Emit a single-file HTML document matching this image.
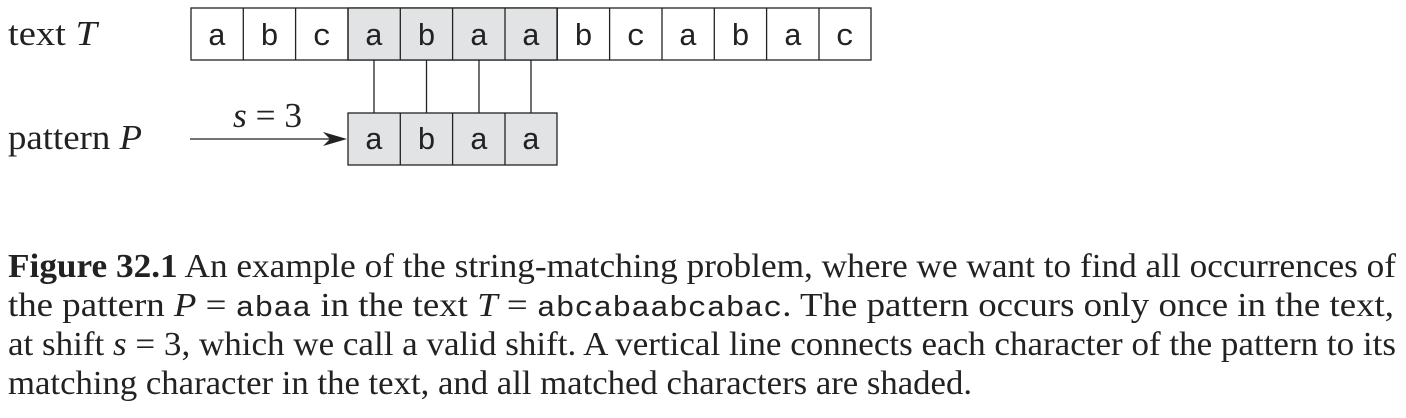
<!DOCTYPE html>
<html><head><meta charset="utf-8"><style>
html,body{margin:0;padding:0;background:#fff;}
svg{display:block}
</style></head><body>
<svg width="1406" height="418" viewBox="0 0 1406 418" xmlns="http://www.w3.org/2000/svg">
<g stroke="#222" stroke-width="1.3">
<rect x="191" y="8" width="680" height="52" fill="#fff"/>
<rect x="348" y="8" width="209" height="52" fill="#e2e3e5"/>
<rect x="348" y="113" width="209" height="52" fill="#e2e3e5"/>
<line x1="243.3" y1="8" x2="243.3" y2="60"/><line x1="295.6" y1="8" x2="295.6" y2="60"/>
<line x1="348" y1="8" x2="348" y2="60"/><line x1="400.3" y1="8" x2="400.3" y2="60"/>
<line x1="452.6" y1="8" x2="452.6" y2="60"/><line x1="505" y1="8" x2="505" y2="60"/>
<line x1="557.3" y1="8" x2="557.3" y2="60"/><line x1="609.6" y1="8" x2="609.6" y2="60"/>
<line x1="662" y1="8" x2="662" y2="60"/><line x1="714.3" y1="8" x2="714.3" y2="60"/>
<line x1="766.6" y1="8" x2="766.6" y2="60"/><line x1="819" y1="8" x2="819" y2="60"/>
<line x1="400.3" y1="113" x2="400.3" y2="165"/><line x1="452.6" y1="113" x2="452.6" y2="165"/><line x1="505" y1="113" x2="505" y2="165"/>
<line x1="374" y1="60" x2="374" y2="113"/><line x1="426.5" y1="60" x2="426.5" y2="113"/>
<line x1="479" y1="60" x2="479" y2="113"/><line x1="531" y1="60" x2="531" y2="113"/>
<line x1="190" y1="139" x2="335" y2="139"/>
</g>
<polygon points="347,139 323,132 330,139 323,146" fill="#222"/>
<g font-family="'Liberation Mono', monospace" font-size="31" text-anchor="middle" fill="#222">
<text x="217" y="45">a</text><text x="269.5" y="45">b</text><text x="322" y="45">c</text>
<text x="374" y="45">a</text><text x="426.5" y="45">b</text><text x="479" y="45">a</text>
<text x="531" y="45">a</text><text x="583.5" y="45">b</text><text x="636" y="45">c</text>
<text x="688" y="45">a</text><text x="740.5" y="45">b</text><text x="793" y="45">a</text>
<text x="845" y="45">c</text>
<text x="374" y="149">a</text><text x="426.5" y="149">b</text><text x="479" y="149">a</text><text x="531" y="149">a</text>
</g>
<g font-family="'Liberation Serif', serif" font-size="35" fill="#222">
<text x="8" y="45" textLength="89" lengthAdjust="spacingAndGlyphs">text  <tspan font-style="italic">T</tspan></text>
<text x="8" y="149" textLength="134" lengthAdjust="spacingAndGlyphs">pattern  <tspan font-style="italic">P</tspan></text>
<text x="233" y="127" textLength="69" lengthAdjust="spacingAndGlyphs"><tspan font-style="italic">s</tspan> = 3</text>
</g>
<g font-family="'Liberation Serif', serif" font-size="34" fill="#222">
<text x="8" y="277" textLength="1388" lengthAdjust="spacingAndGlyphs"><tspan font-weight="bold">Figure 32.1</tspan>    An example of the string-matching problem, where we want to find all occurrences of</text>
<text x="8" y="316" textLength="1386" lengthAdjust="spacingAndGlyphs">the pattern <tspan font-style="italic">P</tspan> = <tspan font-family="'Liberation Mono', monospace" font-size="29">abaa</tspan> in the text <tspan font-style="italic">T</tspan> = <tspan font-family="'Liberation Mono', monospace" font-size="29">abcabaabcabac</tspan>. The pattern occurs only once in the text,</text>
<text x="8" y="355" textLength="1388" lengthAdjust="spacingAndGlyphs">at shift <tspan font-style="italic">s</tspan> = 3, which we call a valid shift. A vertical line connects each character of the pattern to its</text>
<text x="8" y="394" textLength="964" lengthAdjust="spacingAndGlyphs">matching character in the text, and all matched characters are shaded.</text>
</g>
</svg>
</body></html>
